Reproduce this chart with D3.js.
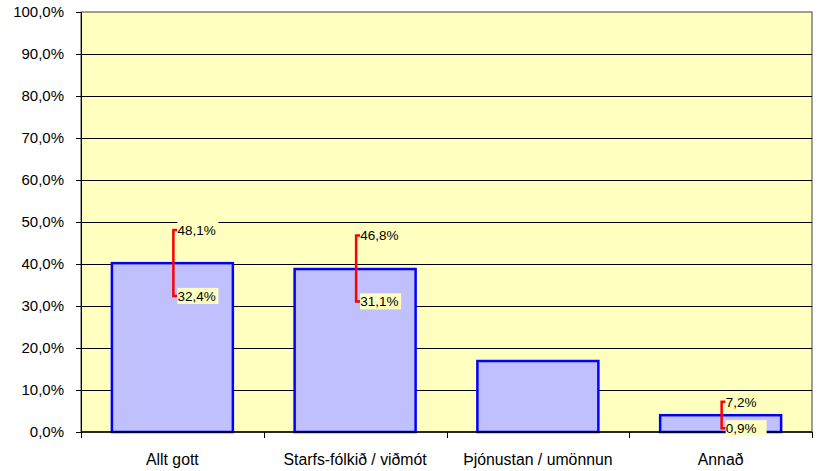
<!DOCTYPE html>
<html>
<head>
<meta charset="utf-8">
<script src="https://cdn.jsdelivr.net/npm/d3@7"></script>
<style>
  body { margin: 0; background: #fff; }
  text { font-family: "Liberation Sans", Arial, sans-serif; fill: #000; }
</style>
</head>
<body>
<div id="chart"></div>
<script>
const categories = ["Allt gott", "Starfs-fólkið / viðmót", "Þjónustan / umönnun", "Annað"];
const values = [40.2, 38.8, 16.9, 4.0];
const errHigh = [48.1, 46.8, null, 7.2];
const errLow = [32.4, 31.1, null, 0.9];
const yTicks = [0, 10, 20, 30, 40, 50, 60, 70, 80, 90, 100];

const margin = { top: 12, right: 6, bottom: 39, left: 81 };
const width = 818 - margin.left - margin.right;
const height = 471 - margin.top - margin.bottom;

const fmt = (v) => v.toFixed(1).replace(".", ",") + "%";

const svg = d3
  .select("#chart")
  .append("svg")
  .attr("width", 818)
  .attr("height", 471)
  .append("g")
  .attr("transform", `translate(${margin.left},${margin.top})`);

const x = d3.scaleBand().domain(categories).range([0, width]).paddingInner(0.338).paddingOuter(0.169);
const xSlot = d3.scaleBand().domain(categories).range([0, width]).padding(0);
const y = d3.scaleLinear().domain([0, 100]).range([height, 0]);

// plot area
svg
  .append("rect")
  .attr("x", 0)
  .attr("y", 0)
  .attr("width", width)
  .attr("height", height)
  .attr("fill", "#FFFFC0")
  .attr("stroke", "#404040")
  .attr("stroke-width", 1);

// gridlines
svg
  .selectAll(".grid")
  .data(yTicks.filter((d) => d > 0 && d < 100))
  .enter()
  .append("line")
  .attr("x1", 0)
  .attr("x2", width)
  .attr("y1", (d) => Math.round(y(d)) + 0.5)
  .attr("y2", (d) => Math.round(y(d)) + 0.5)
  .attr("stroke", "#000")
  .attr("stroke-width", 1);

// y axis
const yAxis = svg
  .append("g")
  .call(d3.axisLeft(y).tickValues(yTicks).tickSize(5).tickPadding(12).tickFormat(fmt));
yAxis.select(".domain").attr("stroke", "#000");
yAxis.selectAll("text").style("font-size", "15px");

// bars
svg
  .selectAll(".bar")
  .data(categories)
  .enter()
  .append("rect")
  .attr("class", "bar")
  .attr("x", (d) => x(d))
  .attr("width", x.bandwidth())
  .attr("y", (d, i) => y(values[i]))
  .attr("height", (d, i) => height - y(values[i]))
  .attr("fill", "#C0C0FF")
  .attr("stroke", "#0000FF")
  .attr("stroke-width", 2.5);

// x axis
svg
  .append("line")
  .attr("x1", 0)
  .attr("x2", width)
  .attr("y1", height)
  .attr("y2", height)
  .attr("stroke", "#000")
  .attr("stroke-width", 1.5);

svg
  .selectAll(".xtick")
  .data(d3.range(categories.length + 1))
  .enter()
  .append("line")
  .attr("x1", (i) => Math.round(i * xSlot.step()) + 0.5)
  .attr("x2", (i) => Math.round(i * xSlot.step()) + 0.5)
  .attr("y1", height)
  .attr("y2", height + 6)
  .attr("stroke", "#000");

svg
  .selectAll(".xlabel")
  .data(categories)
  .enter()
  .append("text")
  .attr("x", (d) => xSlot(d) + xSlot.bandwidth() / 2)
  .attr("y", height + 33)
  .attr("text-anchor", "middle")
  .style("font-size", "15.8px")
  .text((d) => d);

// error bars
const errData = categories
  .map((c, i) => ({ c, hi: errHigh[i], lo: errLow[i] }))
  .filter((d) => d.hi !== null);

const eg = svg.selectAll(".err").data(errData).enter().append("g");

eg.append("path")
  .attr("d", (d) => {
    const cx = x(d.c) + x.bandwidth() / 2 + 1;
    return `M${cx + 4},${y(d.hi)}H${cx}V${y(d.lo)}H${cx + 4}`;
  })
  .attr("fill", "none")
  .attr("stroke", "#FF0000")
  .attr("stroke-width", 2.5);

["hi", "lo"].forEach((k) => {
  const lab = eg.append("g").attr("transform", (d) => {
    const cx = x(d.c) + x.bandwidth() / 2 + 5;
    return `translate(${cx},${y(d[k])})`;
  });
  lab
    .append("rect")
    .attr("x", 0)
    .attr("y", -8)
    .attr("width", 41)
    .attr("height", 16)
    .attr("fill", "#FFFFC0");
  lab
    .append("text")
    .attr("x", 0)
    .attr("y", 5)
    .style("font-size", "13.5px")
    .text((d) => fmt(d[k]));
});
</script>
</body>
</html>
